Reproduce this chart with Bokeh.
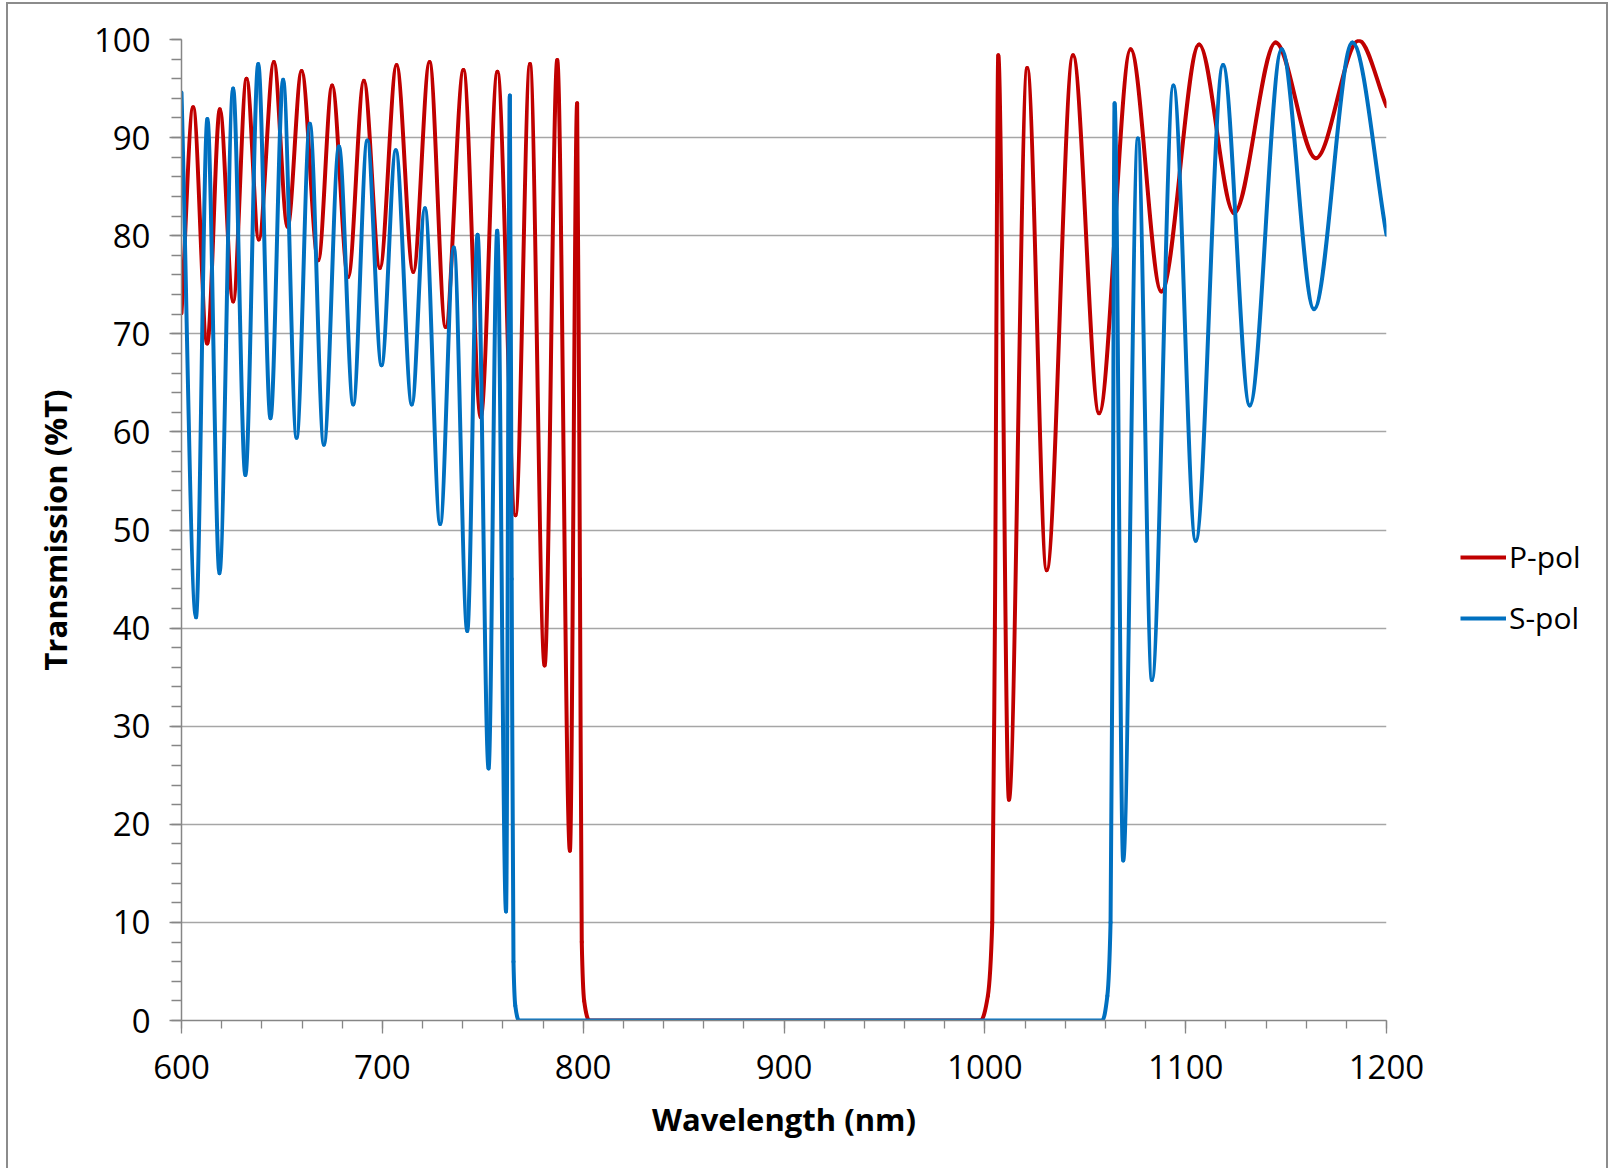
import numpy as np
from bokeh.plotting import figure
from bokeh.layouts import row
from bokeh.models import (Range1d, SingleIntervalTicker, Legend, LegendItem, ColumnDataSource)
from bokeh.embed import file_html
from bokeh.resources import INLINE

# ---- data (extrema and edge points) ----
p_wl = [600.0, 605.8, 612.8, 619.1, 625.7, 632.4, 638.5, 646.0, 652.8, 659.8, 668.1, 675.0,
        683.0, 690.8, 698.8, 707.1, 715.4, 723.5, 731.5, 740.4, 749.0, 757.3, 766.3, 773.5,
        780.8, 787.1, 793.4, 797.0, 798.4, 799.3, 800.5, 803.0, 998.0, 1001.5, 1003.7, 1005.0,
        1006.7, 1012.0, 1021.1, 1030.8, 1043.9, 1056.9, 1072.6, 1087.9, 1106.7, 1124.1,
        1144.8, 1164.8, 1186.2, 1200.0]
p_t = [72.1, 93.1, 69.0, 92.9, 73.3, 96.0, 79.6, 97.7, 80.9, 96.8, 77.5, 95.3,
       75.8, 95.8, 76.7, 97.4, 76.3, 97.7, 70.7, 96.9, 61.5, 96.7, 51.5, 97.5,
       36.2, 97.9, 17.3, 93.5, 45.0, 8.0, 2.0, 0.0, 0.0, 2.5, 10.0, 40.0,
       98.4, 22.5, 97.1, 45.9, 98.4, 61.9, 99.0, 74.3, 99.5, 82.3,
       99.7, 87.9, 99.9, 93.2]

s_wl = [600.0, 607.2, 612.9, 618.9, 625.7, 631.8, 638.2, 644.3, 650.6, 657.3, 663.9, 670.9,
        678.4, 685.5, 692.5, 699.6, 706.7, 714.7, 721.2, 728.8, 735.6, 742.3, 747.4, 752.9,
        757.2, 761.6, 763.5, 764.4, 765.3, 766.2, 768.0, 1058.5, 1061.0, 1062.6, 1063.6,
        1064.6, 1068.9, 1076.2, 1083.2, 1093.9, 1105.0, 1118.6, 1131.9, 1147.8, 1163.9,
        1183.0, 1200.0]
s_t = [94.6, 41.1, 91.9, 45.6, 95.0, 55.6, 97.5, 61.4, 95.9, 59.4, 91.4, 58.7,
       89.1, 62.8, 89.7, 66.8, 88.7, 62.8, 82.8, 50.6, 78.8, 39.7, 80.1, 25.7,
       80.5, 11.1, 94.3, 45.0, 6.0, 1.5, 0.0, 0.0, 2.5, 10.0, 40.0,
       93.5, 16.3, 89.9, 34.7, 95.3, 48.9, 97.4, 62.7, 99.0, 72.5,
       99.7, 80.1]

series_names = ["P-pol", "S-pol"]
series_colors = ["#C00000", "#0070C0"]

FONT = "Open Sans"
LINE_W = 4


def smooth_segments(xs, ys):
    """Monotone cubic (Fritsch-Carlson) tangents, rendered as Bezier segments."""
    x = np.asarray(xs, float)
    y = np.asarray(ys, float)
    h = np.diff(x)
    d = np.diff(y) / h
    n = len(x)
    m = np.zeros(n)
    m[0] = d[0]
    m[-1] = d[-1]
    for k in range(1, n - 1):
        if d[k - 1] * d[k] <= 0:
            m[k] = 0.0
        else:
            w1 = 2 * h[k] + h[k - 1]
            w2 = h[k] + 2 * h[k - 1]
            m[k] = (w1 + w2) / (w1 / d[k - 1] + w2 / d[k])
    return dict(
        x0=x[:-1], y0=y[:-1], x1=x[1:], y1=y[1:],
        cx0=x[:-1] + h / 3, cy0=y[:-1] + m[:-1] * h / 3,
        cx1=x[1:] - h / 3, cy1=y[1:] - m[1:] * h / 3,
    )


H = 1164
p = figure(width=1438, height=H, output_backend="svg", toolbar_location=None,
           x_range=Range1d(600, 1200), y_range=Range1d(0, 100),
           min_border_left=173, min_border_right=60, min_border_top=35,
           min_border_bottom=148)
p.outline_line_color = None
p.background_fill_color = "white"
p.border_fill_color = "white"

for ax in (p.xaxis[0], p.yaxis[0]):
    ax.axis_line_color = "#868686"
    ax.axis_line_width = 1.5
    ax.major_tick_line_color = "#868686"
    ax.minor_tick_line_color = "#868686"
    ax.major_tick_line_width = 1.3
    ax.minor_tick_line_width = 1.3
    ax.major_tick_in = 0
    ax.minor_tick_in = 0
    ax.major_label_text_font = FONT
    ax.major_label_text_font_size = "33px"
    ax.major_label_text_color = "black"
    ax.axis_label_text_font = FONT
    ax.axis_label_text_font_style = "bold"
    ax.axis_label_text_font_size = "31px"
    ax.axis_label_text_color = "black"

p.xaxis.ticker = SingleIntervalTicker(interval=100, num_minor_ticks=5)
p.yaxis.ticker = SingleIntervalTicker(interval=10, num_minor_ticks=5)
p.xaxis.major_tick_out = 13
p.xaxis.minor_tick_out = 8
p.yaxis.major_tick_out = 12
p.yaxis.minor_tick_out = 10
p.xaxis.major_label_standoff = 21
p.yaxis.major_label_standoff = 19
p.xaxis.axis_label = "Wavelength (nm)"
p.yaxis.axis_label = "Transmission (%T)"
p.xaxis.axis_label_standoff = 16
p.yaxis.axis_label_standoff = 15

p.xgrid.grid_line_color = None
p.ygrid.grid_line_color = "#a6a6a6"
p.ygrid.grid_line_width = 1.5

for xs, ys, col in ((p_wl, p_t, series_colors[0]), (s_wl, s_t, series_colors[1])):
    src = ColumnDataSource(smooth_segments(xs, ys))
    p.bezier(x0="x0", y0="y0", x1="x1", y1="y1", cx0="cx0", cy0="cy0",
             cx1="cx1", cy1="cy1", source=src, line_color=col, line_width=LINE_W,
             line_cap="round")

# ---- legend panel (separate figure so the legend is not clipped) ----
q = figure(width=160, height=H, output_backend="svg", toolbar_location=None,
           x_axis_type=None, y_axis_type=None, min_border=0,
           x_range=Range1d(0, 1), y_range=Range1d(0, 1))
q.outline_line_color = None
q.grid.visible = False
q.background_fill_color = "white"
q.border_fill_color = "white"
# legend proxies: lines lying outside the visible range of this panel
leg_renderers = [q.line(x=[-2, -1], y=[-2, -1], line_color=c, line_width=LINE_W)
                 for c in series_colors]
legend = Legend(items=[LegendItem(label=series_names[i], renderers=[leg_renderers[i]])
                       for i in range(2)],
                location=(14, 382), orientation="vertical")
legend.padding = 0
legend.margin = 0
legend.spacing = 20
legend.glyph_width = 46
legend.glyph_height = 40
legend.label_height = 40
legend.label_standoff = 3
legend.border_line_alpha = 0
legend.background_fill_alpha = 0
legend.label_text_font = FONT
legend.label_text_font_size = "30px"
legend.label_text_color = "black"
q.add_layout(legend, "center")

layout = row(p, q, spacing=0)
layout.styles = {"border-left": "2px solid #8c8c8c", "border-top": "2px solid #8c8c8c",
                 "border-right": "2px solid #8c8c8c"}
layout.margin = (2, 0, 0, 6)

open("out.html", "w").write(file_html(layout, INLINE))
